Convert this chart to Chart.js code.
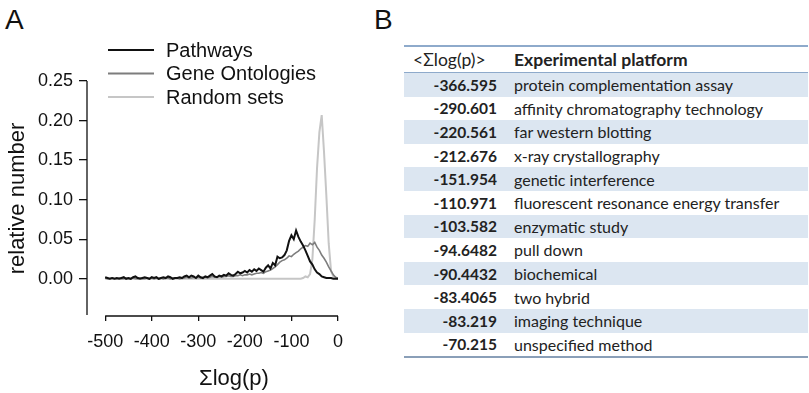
<!DOCTYPE html>
<html>
<head>
<meta charset="utf-8">
<script src="https://cdn.jsdelivr.net/npm/chart.js@4"></script>
<style>
  body { margin: 0; background: #fff; width: 809px; height: 393px; overflow: hidden; position: relative; }
  #chartBox { position: absolute; left: 0; top: 0; width: 400px; height: 393px; }
  .panel { position: absolute; font-family: "Liberation Sans", Arial, sans-serif; font-size: 28px; color: #111; }
  #tbl { position: absolute; left: 404px; top: 45px; width: 404px; border-collapse: collapse;
         font-family: Lato, "Open Sans", sans-serif; font-size: 16px; color: #222; }
  #tbl th { border-top: 2px solid #8eaacb; border-bottom: 1px solid #8eaacb; height: 25px; padding: 0;
            text-align: left; font-size: 17.5px; }
  #tbl td { height: 23.6px; padding: 0; }
  #tbl tr.shade td { background: #dce6f1; }
  #tbl tbody tr:last-child td { border-bottom: 2px solid #8a9fb8; }
  #tbl .num { width: 93px; text-align: right; padding-right: 6px; font-weight: bold; font-size: 15.5px; }
  #tbl .lab { padding-left: 11px; }
</style>
</head>
<body>
<div class="panel" style="left:5px; top:4px;">A</div>
<div class="panel" style="left:374px; top:4px;">B</div>
<div id="chartBox"><canvas id="distChart"></canvas></div>
<table id="tbl">
  <thead><tr><th style="font-weight:normal; padding-left:9px;">&lt;&Sigma;log(p)&gt;</th><th class="lab" style="font-weight:bold;">Experimental platform</th></tr></thead>
  <tbody id="tblBody"></tbody>
</table>
<script>
// bin centres of the histogram, sum log(p)
const binX = [
  -500, -495, -490, -485, -480, -475, -470, -465, -460, -455,
  -450, -445, -440, -435, -430, -425, -420, -415, -410, -405,
  -400, -395, -390, -385, -380, -375, -370, -365, -360, -355,
  -350, -345, -340, -335, -330, -325, -320, -315, -310, -305,
  -300, -295, -290, -285, -280, -275, -270, -265, -260, -255,
  -250, -245, -240, -235, -230, -225, -220, -215, -210, -205,
  -200, -195, -190, -185, -180, -175, -170, -165, -160, -155,
  -150, -145, -140, -135, -130, -125, -120, -115, -110, -105,
  -100, -95, -90, -85, -80, -75, -70, -65, -60, -55,
  -50, -45, -40, -35, -30, -25, -20, -15, -10, -5,
  0
];

const pathways = [
  0.002, 0.001, 0.000, 0.001, 0.000, 0.001, 0.000, 0.001, 0.002, 0.000,
  0.001, 0.000, 0.002, 0.003, 0.001, 0.000, 0.001, 0.002, 0.001, 0.000,
  0.002, 0.001, 0.002, 0.000, 0.001, 0.002, 0.001, 0.003, 0.002, 0.000,
  0.001, 0.001, 0.002, 0.001, 0.003, 0.004, 0.002, 0.004, 0.003, 0.001,
  0.004, 0.002, 0.001, 0.003, 0.002, 0.004, 0.006, 0.003, 0.002, 0.004,
  0.003, 0.005, 0.004, 0.007, 0.005, 0.004, 0.006, 0.009, 0.007, 0.008,
  0.010, 0.008, 0.011, 0.009, 0.012, 0.010, 0.013, 0.011, 0.009, 0.014,
  0.017, 0.013, 0.020, 0.017, 0.028, 0.026, 0.027, 0.030, 0.036, 0.048,
  0.055, 0.050, 0.061, 0.053, 0.047, 0.042, 0.036, 0.029, 0.022, 0.018,
  0.012, 0.008, 0.006, 0.003, 0.002, 0.001, 0.001, 0.001, 0.000, 0.000,
  0.000
];

const geneOntologies = [
  0.001, 0.000, 0.000, 0.001, 0.000, 0.000, 0.001, 0.000, 0.000, 0.001,
  0.000, 0.000, 0.001, 0.000, 0.000, 0.001, 0.000, 0.000, 0.001, 0.000,
  0.001, 0.000, 0.001, 0.000, 0.001, 0.000, 0.001, 0.001, 0.000, 0.001,
  0.001, 0.001, 0.000, 0.001, 0.001, 0.002, 0.001, 0.001, 0.002, 0.001,
  0.002, 0.001, 0.002, 0.002, 0.001, 0.002, 0.003, 0.002, 0.002, 0.003,
  0.002, 0.003, 0.003, 0.004, 0.003, 0.003, 0.004, 0.004, 0.005, 0.004,
  0.005, 0.005, 0.006, 0.005, 0.006, 0.007, 0.007, 0.008, 0.007, 0.009,
  0.010, 0.011, 0.013, 0.015, 0.018, 0.021, 0.023, 0.024, 0.026, 0.029,
  0.028, 0.031, 0.033, 0.035, 0.038, 0.040, 0.042, 0.041, 0.045, 0.043,
  0.046, 0.040, 0.036, 0.030, 0.026, 0.021, 0.015, 0.010, 0.005, 0.002,
  0.001
];

const randomSets = [
  0, 0, 0, 0, 0, 0, 0, 0, 0, 0,
  0, 0, 0, 0, 0, 0, 0, 0, 0, 0,
  0, 0, 0, 0, 0, 0, 0, 0, 0, 0,
  0, 0, 0, 0, 0, 0, 0, 0, 0, 0,
  0, 0, 0, 0, 0, 0, 0, 0, 0, 0,
  0, 0, 0, 0, 0, 0, 0, 0, 0, 0,
  0, 0, 0, 0, 0, 0, 0, 0, 0, 0,
  0, 0, 0, 0, 0, 0, 0, 0, 0, 0,
  0, 0, 0, 0, 0, 0.001, 0.003, 0.002, 0.006, 0.025,
  0.075, 0.140, 0.185, 0.207, 0.160, 0.105, 0.045, 0.010, 0.003, 0.001,
  0.000
];

const seriesNames = ['Pathways', 'Gene Ontologies', 'Random sets'];
const xTicks = [-500, -400, -300, -200, -100, 0];
const yTicks = [0, 0.05, 0.10, 0.15, 0.20, 0.25];
const xTitle = '\u03A3log(p)';
const yTitle = 'relative number';

// table of panel B
const platformValues = ['-366.595', '-290.601', '-220.561', '-212.676', '-151.954', '-110.971',
  '-103.582', '-94.6482', '-90.4432', '-83.4065', '-83.219', '-70.215'];
const platformNames = ['protein complementation assay', 'affinity chromatography technology',
  'far western blotting', 'x-ray crystallography', 'genetic interference',
  'fluorescent resonance energy transfer', 'enzymatic study', 'pull down', 'biochemical',
  'two hybrid', 'imaging technique', 'unspecified method'];

const tbody = document.getElementById('tblBody');
platformValues.forEach((v, i) => {
  const tr = document.createElement('tr');
  if (i % 2 === 0) tr.className = 'shade';
  tr.innerHTML = '<td class="num">' + v + '</td><td class="lab">' + platformNames[i] + '</td>';
  tbody.appendChild(tr);
});

function toPoints(ys) {
  return binX.map((x, i) => ({ x: x, y: ys[i] }));
}

const FONT = '"Liberation Sans", Arial, sans-serif';

// draws the detached R-style axis lines, the legend and the x title
const axesAndLegend = {
  id: 'axesAndLegend',
  afterDraw(chart) {
    const c = chart.ctx;
    const xs = chart.scales.x, ys = chart.scales.y, area = chart.chartArea;
    c.save();
    c.strokeStyle = '#111';
    c.lineWidth = 1.3;
    c.beginPath();
    c.moveTo(area.left, ys.getPixelForValue(yTicks[yTicks.length - 1]));
    c.lineTo(area.left, area.bottom - 1);
    c.moveTo(xs.getPixelForValue(xTicks[0]), area.bottom);
    c.lineTo(xs.getPixelForValue(xTicks[xTicks.length - 1]), area.bottom);
    c.stroke();

    // legend
    c.font = '20px ' + FONT;
    c.textBaseline = 'middle';
    c.fillStyle = '#111';
    chart.data.datasets.forEach((ds, i) => {
      const y = 50 + i * 23.5;
      c.strokeStyle = ds.borderColor;
      c.lineWidth = 2;
      c.beginPath();
      c.moveTo(108, y);
      c.lineTo(154, y);
      c.stroke();
      c.fillText(ds.label, 166, y + 1);
    });

    // x axis title
    c.font = '22px ' + FONT;
    c.textAlign = 'center';
    c.fillText(xTitle, 234, 379);
    c.restore();
  }
};

new Chart(document.getElementById('distChart').getContext('2d'), {
  type: 'line',
  data: {
    datasets: [
      { label: seriesNames[0], data: toPoints(pathways), borderColor: '#111111', borderWidth: 2 },
      { label: seriesNames[1], data: toPoints(geneOntologies), borderColor: '#7d7d7d', borderWidth: 1.6 },
      { label: seriesNames[2], data: toPoints(randomSets), borderColor: '#c6c6c6', borderWidth: 2 }
    ]
  },
  options: {
    responsive: true,
    maintainAspectRatio: false,
    animation: false,
    layout: { padding: { top: 81, right: 62, left: 0, bottom: 0 } },
    elements: { point: { radius: 0 }, line: { tension: 0 } },
    plugins: { legend: { display: false }, tooltip: { enabled: false } },
    scales: {
      x: {
        type: 'linear',
        min: -539,
        max: 0,
        afterBuildTicks: (s) => { s.ticks = xTicks.map(v => ({ value: v })); },
        afterFit: (s) => { s.height = 77; },
        border: { display: false },
        grid: { drawOnChartArea: false, drawTicks: true, tickLength: 5, color: '#111', lineWidth: 1.3 },
        ticks: { color: '#111', font: { family: FONT, size: 18 }, padding: 10, maxRotation: 0,
                 callback: (v) => String(v) }
      },
      y: {
        min: -0.047,
        max: 0.25,
        afterBuildTicks: (s) => { s.ticks = yTicks.map(v => ({ value: v })); },
        afterFit: (s) => { s.width = 87; },
        border: { display: false },
        grid: { drawOnChartArea: false, drawTicks: true, tickLength: 8, color: '#111', lineWidth: 1.3 },
        ticks: { color: '#111', font: { family: FONT, size: 18 }, padding: 6,
                 callback: (v) => v.toFixed(2) },
        title: { display: true, text: yTitle, color: '#111', font: { family: FONT, size: 22 },
                 padding: { top: 5, bottom: 0 } }
      }
    }
  },
  plugins: [axesAndLegend]
});
</script>
</body>
</html>
